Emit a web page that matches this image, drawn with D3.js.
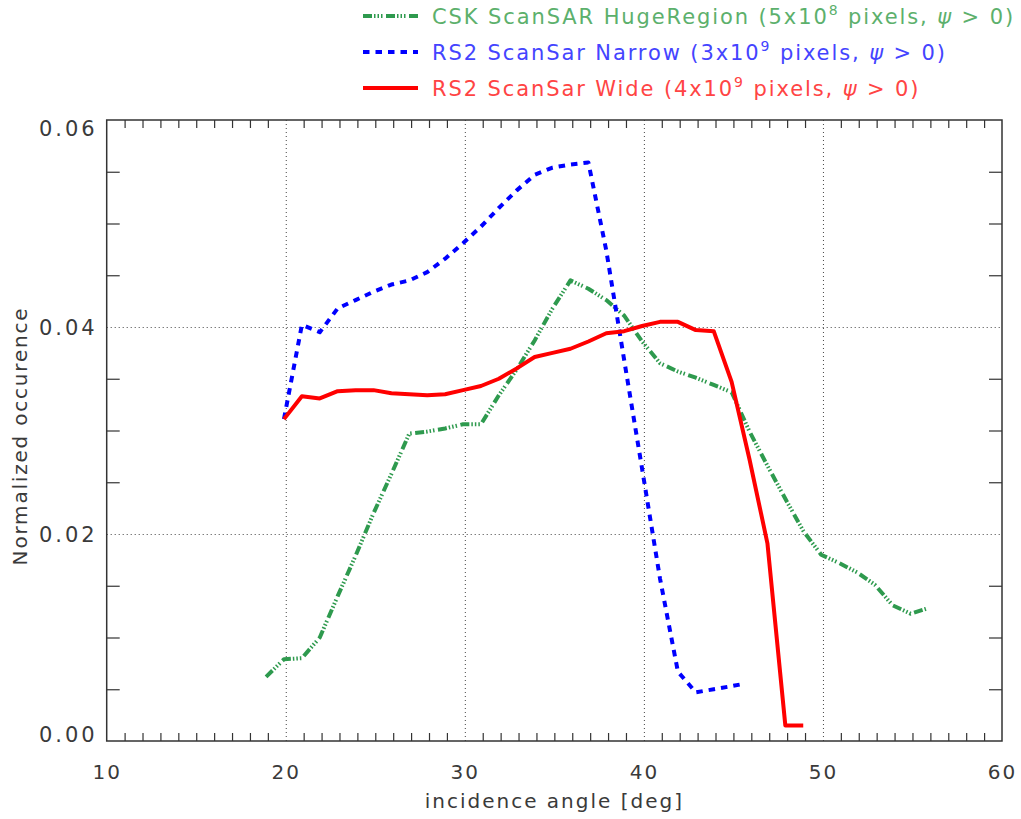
<!DOCTYPE html>
<html>
<head>
<meta charset="utf-8">
<script src="https://cdn.jsdelivr.net/npm/d3@7/dist/d3.min.js"></script>
<style>
  html, body { margin: 0; padding: 0; background: #fff; }
  svg text { font-family: "DejaVu Sans", sans-serif; }
</style>
</head>
<body>
<svg id="chart" width="1021" height="819"></svg>
<script>
// ---- data ----
const cskAngle = [18.9,19.9,20.9,21.9,22.9,23.9,24.9,25.9,26.9,27.9,28.9,29.9,30.9,31.9,32.9,33.9,34.9,35.9,36.9,37.9,38.9,39.9,40.9,41.9,42.9,43.9,44.9,45.9,46.9,47.9,48.9,49.9,50.9,51.9,52.9,53.9,54.9,55.8];
const cskValues = [0.0062,0.0079,0.0080,0.0100,0.0140,0.0179,0.0220,0.0258,0.0297,0.0299,0.0302,0.0306,0.0306,0.0334,0.0359,0.0387,0.0418,0.0445,0.0437,0.0426,0.0411,0.0386,0.0365,0.0357,0.0351,0.0344,0.0337,0.0299,0.0266,0.0234,0.0203,0.0180,0.0172,0.0163,0.0151,0.0131,0.0123,0.0128];

const narrowAngle = [19.9,20.9,21.9,22.9,23.9,24.9,25.9,26.9,27.9,28.9,29.9,30.9,31.9,32.9,33.9,34.9,35.9,36.9,37.9,38.9,39.9,40.9,41.9,42.9,43.9,44.9,45.5];
const narrowValues = [0.0311,0.0402,0.0395,0.0418,0.0426,0.0434,0.0441,0.0445,0.0453,0.0466,0.0481,0.0497,0.0515,0.0532,0.0547,0.0554,0.0557,0.0559,0.0474,0.0368,0.0263,0.0157,0.0067,0.0047,0.0050,0.0053,0.0055];

const wideAngle = [19.9,20.9,21.9,22.9,23.9,24.9,25.9,26.9,27.9,28.9,29.9,30.9,31.9,32.9,33.9,34.9,35.9,36.9,37.9,38.9,39.9,40.9,41.9,42.9,43.9,44.9,45.9,46.9,47.9,48.9];
const wideValues = [0.0311,0.0333,0.0331,0.0338,0.0339,0.0339,0.0336,0.0335,0.0334,0.0335,0.0339,0.0343,0.0350,0.0360,0.0371,0.0375,0.0379,0.0386,0.0394,0.0396,0.0401,0.0405,0.0405,0.0397,0.0396,0.0347,0.0272,0.0191,0.0015,0.0015];

const xTickLabels = [10,20,30,40,50,60];
const yTickLabels = [0.00,0.02,0.04,0.06];
const xTitle = "incidence angle [deg]";
const yTitle = "Normalized occurence";

const seriesNames = ["CSK ScanSAR HugeRegion", "RS2 ScanSar Narrow", "RS2 ScanSar Wide"];
const seriesPixels = [["5x10","8"],["3x10","9"],["4x10","9"]];
const seriesColors = ["#2e9a4e","#0000ff","#ff0000"];
const seriesText = ["#5cb06c","#4444ff","#ff4444"];
const seriesDash = ["9,2,1.5,2,1.5,2,1.5,3.5","6.5,6","none"];

// ---- layout ----
const svg = d3.select("#chart");
const L = 106.7, R = 1002, T = 120, B = 741;
const x = d3.scaleLinear().domain([10,60]).range([L,R]);
const y = d3.scaleLinear().domain([0,0.06]).range([B,T]);
const axisColor = "#333";
const textColor = "#3a3a3a";

// gridlines
const gx = svg.append("g").attr("transform",`translate(0,${B})`)
  .call(d3.axisBottom(x).tickValues([20,30,40,50]).tickSize(-(B-T)).tickFormat(""));
const gy = svg.append("g").attr("transform",`translate(${L},0)`)
  .call(d3.axisLeft(y).tickValues([0.02,0.04]).tickSize(-(R-L)).tickFormat(""));
[gx,gy].forEach(g=>{
  g.select(".domain").remove();
  g.selectAll("line").attr("stroke","#444").attr("stroke-width",1).attr("stroke-dasharray","1,3");
});

// minor ticks
const xMinor = d3.range(11,60).filter(v=>v%10!==0);
const yMinor = d3.range(1,12).map(i=>i*0.005).filter((v,i)=>(i+1)%4!==0);
const minorAxes = [
  svg.append("g").attr("transform",`translate(0,${B})`).call(d3.axisBottom(x).tickValues(xMinor).tickSize(-8).tickFormat("")),
  svg.append("g").attr("transform",`translate(0,${T})`).call(d3.axisTop(x).tickValues(xMinor).tickSize(-8).tickFormat("")),
  svg.append("g").attr("transform",`translate(${L},0)`).call(d3.axisLeft(y).tickValues(yMinor).tickSize(-13).tickFormat("")),
  svg.append("g").attr("transform",`translate(${R},0)`).call(d3.axisRight(y).tickValues(yMinor).tickSize(-13).tickFormat(""))
];
minorAxes.forEach(g=>{
  g.select(".domain").remove();
  g.selectAll("line").attr("stroke",axisColor).attr("stroke-width",1.2);
});

// border
svg.append("rect").attr("x",L).attr("y",T).attr("width",R-L).attr("height",B-T)
  .attr("fill","none").attr("stroke",axisColor).attr("stroke-width",1.5);

// tick labels
const xl = svg.append("g").attr("transform",`translate(0,${B})`)
  .call(d3.axisBottom(x).tickValues(xTickLabels).tickSize(0).tickPadding(38).tickFormat(d3.format("d")));
xl.select(".domain").remove();
xl.selectAll("text").attr("font-size",20).attr("fill",textColor).attr("letter-spacing","2px")
  .attr("font-family","DejaVu Sans").attr("dy","0");

const yl = svg.append("g").attr("transform",`translate(${L},0)`)
  .call(d3.axisLeft(y).tickValues(yTickLabels).tickSize(0).tickPadding(9).tickFormat(d3.format(".2f")));
yl.select(".domain").remove();
yl.selectAll("text").attr("font-size",21).attr("fill",textColor).attr("letter-spacing","3px")
  .attr("font-family","DejaVu Sans")
  .attr("dy",d=> d===0 ? "0" : (d===0.06 ? "0.75em" : "0.35em"));

// axis titles
svg.append("text").attr("x",(L+R)/2).attr("y",808).attr("text-anchor","middle")
  .attr("font-size",20).attr("fill",textColor).attr("letter-spacing","2px").text(xTitle);
svg.append("text").attr("transform",`translate(27,${436}) rotate(-90)`).attr("text-anchor","middle")
  .attr("font-size",20).attr("fill",textColor).attr("letter-spacing","1.8px").text(yTitle);

// series
const series = [
  {ang: cskAngle, val: cskValues},
  {ang: narrowAngle, val: narrowValues},
  {ang: wideAngle, val: wideValues}
];
const line = d3.line().x(d=>x(d[0])).y(d=>y(d[1]));
const plot = svg.append("g");
series.forEach((s,i)=>{
  const pts = s.ang.map((a,j)=>[a,s.val[j]]);
  plot.append("path").datum(pts).attr("d",line)
    .attr("fill","none").attr("stroke",seriesColors[i]).attr("stroke-width",4)
    .attr("stroke-dasharray",seriesDash[i]).attr("stroke-linejoin","round");
});

// legend
const legendY = [16,52,88];
seriesNames.forEach((name,i)=>{
  svg.append("line").attr("x1",363).attr("x2",418).attr("y1",legendY[i]).attr("y2",legendY[i])
    .attr("stroke",seriesColors[i]).attr("stroke-width",4).attr("stroke-dasharray",seriesDash[i]);
  const t = svg.append("text").attr("x",432).attr("y",legendY[i]+8)
    .attr("font-size",21).attr("fill",seriesText[i]).attr("letter-spacing","1.9px");
  t.append("tspan").text(`${name} (${seriesPixels[i][0]}`);
  t.append("tspan").attr("font-size",14).attr("dy",-9).text(seriesPixels[i][1]);
  t.append("tspan").attr("dy",9).text(" pixels, ");
  t.append("tspan").attr("font-style","italic").text("ψ");
  t.append("tspan").text(" > 0)");
});
</script>
</body>
</html>
